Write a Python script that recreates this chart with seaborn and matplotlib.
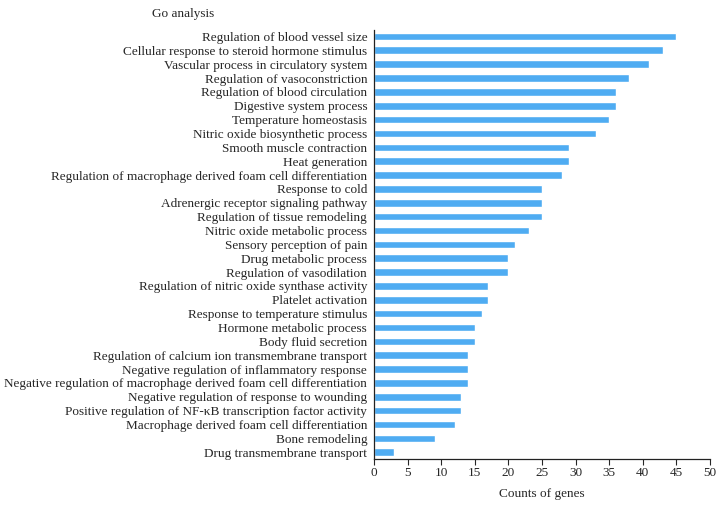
import matplotlib
matplotlib.use('Agg')
import matplotlib.pyplot as plt
import seaborn as sns
import pandas as pd

terms = [
    'Regulation of blood vessel size',
    'Cellular response to steroid hormone stimulus',
    'Vascular process in circulatory system',
    'Regulation of vasoconstriction',
    'Regulation of blood circulation',
    'Digestive system process',
    'Temperature homeostasis',
    'Nitric oxide biosynthetic process',
    'Smooth muscle contraction',
    'Heat generation',
    'Regulation of macrophage derived foam cell differentiation',
    'Response to cold',
    'Adrenergic receptor signaling pathway',
    'Regulation of tissue remodeling',
    'Nitric oxide metabolic process',
    'Sensory perception of pain',
    'Drug metabolic process',
    'Regulation of vasodilation',
    'Regulation of nitric oxide synthase activity',
    'Platelet activation',
    'Response to temperature stimulus',
    'Hormone metabolic process',
    'Body fluid secretion',
    'Regulation of calcium ion transmembrane transport',
    'Negative regulation of inflammatory response',
    'Negative regulation of macrophage derived foam cell differentiation',
    'Negative regulation of response to wounding',
    'Positive regulation of NF-\u03baB transcription factor activity',
    'Macrophage derived foam cell differentiation',
    'Bone remodeling',
    'Drug transmembrane transport',
]
counts = [45, 43, 41, 38, 36, 36, 35, 33, 29, 29, 28, 25, 25, 25, 23, 21,
          20, 20, 17, 17, 16, 15, 15, 14, 14, 14, 13, 13, 12, 9, 3]
x_ticks = [0, 5, 10, 15, 20, 25, 30, 35, 40, 45, 50]

df = pd.DataFrame({'term': terms, 'count': counts})

sns.set_style('ticks')
plt.rcParams['font.family'] = ['Liberation Serif', 'DejaVu Serif']

fig = plt.figure(figsize=(7.25, 5.09), dpi=100)
ax = fig.add_axes([0.516, 0.098, 0.463, 0.844])
sns.barplot(x='count', y='term', data=df, color='#4FACF2', saturation=1,
            width=0.55, orient='h', ax=ax)

ax.set_xlim(0, 50)
ax.set_ylim(len(terms) - 0.5, -0.5)
ax.set_xticks(x_ticks)
ax.tick_params(axis='x', labelsize=9.5, length=4, width=0.8, direction='out', pad=2)
ax.tick_params(axis='y', labelsize=9.5, length=0, pad=5)
ax.set_ylabel('')
ax.set_xlabel('Counts of genes', fontsize=9.5, labelpad=6)
for s in ['top', 'right']:
    ax.spines[s].set_visible(False)
for s in ['left', 'bottom']:
    ax.spines[s].set_linewidth(0.9)
    ax.spines[s].set_color('#222222')

fig.text(0.252, 0.972, 'Go analysis', ha='center', va='center', fontsize=9.5)

fig.savefig('out.png', dpi=100)
